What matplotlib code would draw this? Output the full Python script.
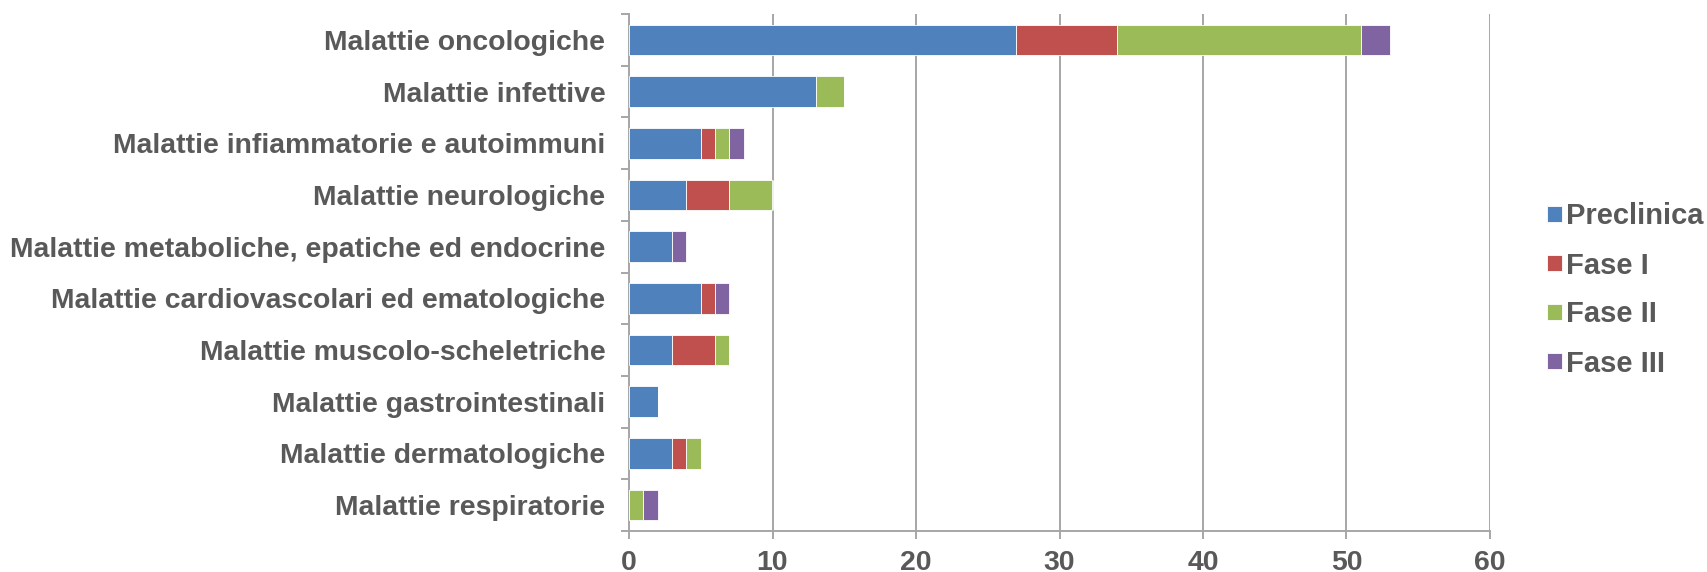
import numpy as np
import matplotlib
matplotlib.use("Agg")
import matplotlib.pyplot as plt
from matplotlib.ticker import FixedLocator

plt.rcParams["font.family"] = ["Liberation Sans", "DejaVu Sans"]
plt.rcParams["font.weight"] = "bold"

# ---------------------------------------------------------------- data
categories = ["Malattie oncologiche", "Malattie infettive",
              "Malattie infiammatorie e autoimmuni", "Malattie neurologiche",
              "Malattie metaboliche, epatiche ed endocrine",
              "Malattie cardiovascolari ed ematologiche",
              "Malattie muscolo-scheletriche", "Malattie gastrointestinali",
              "Malattie dermatologiche", "Malattie respiratorie"]
preclinica = [27, 13, 5, 4, 3, 5, 3, 2, 3, 0]
fase_1 = [7, 0, 1, 3, 0, 1, 3, 0, 1, 0]
fase_2 = [17, 2, 1, 3, 0, 0, 1, 0, 1, 1]
fase_3 = [2, 0, 1, 0, 1, 1, 0, 0, 0, 1]
series_names = ["Preclinica", "Fase I", "Fase II", "Fase III"]
colors = ["#4F81BD", "#C0504D", "#9BBB59", "#8064A2"]

TXT = "#595959"
GRID = "#A6A6A6"

fig = plt.figure(figsize=(17.08, 5.72), dpi=100)
ax = fig.add_axes([629 / 1708, 1 - 531 / 572, (1490 - 629) / 1708, (531 - 14) / 572])

y = np.arange(len(categories))[::-1]
left = np.zeros(len(categories))
for name, vals, c in zip(series_names, [preclinica, fase_1, fase_2, fase_3], colors):
    vals = np.array(vals, dtype=float)
    ax.barh(y, vals, left=left, height=0.59, color=c, label=name,
            edgecolor="white", linewidth=0.6, zorder=3)
    left += vals

ax.set_xlim(0, 60)
ax.set_ylim(-0.5, len(categories) - 0.5)
ax.set_xticks(np.arange(0, 61, 10))
ax.set_yticks(y)
ax.set_yticklabels(categories)
ax.yaxis.set_minor_locator(FixedLocator(np.arange(-0.5, len(categories), 1)))

ax.grid(True, axis="x", color=GRID, linewidth=1.4, zorder=0)
for s in ["top", "right"]:
    ax.spines[s].set_visible(False)
for s in ["left", "bottom"]:
    ax.spines[s].set_color(GRID)
    ax.spines[s].set_linewidth(1.4)

ax.tick_params(axis="y", which="major", length=0, pad=17, labelsize=20.4, labelcolor=TXT)
ax.tick_params(axis="y", which="minor", length=6, width=1.4, color=GRID)
ax.tick_params(axis="x", which="major", length=6, width=1.4, color=GRID,
               pad=8, labelsize=20.4, labelcolor=TXT)

fig.legend(loc="center left", bbox_to_anchor=(1547 / 1708, 1 - 290 / 572),
           frameon=False, fontsize=21, labelcolor=TXT,
           handlelength=0.5, handleheight=0.5, handletextpad=0.15,
           labelspacing=0.72, borderaxespad=0, borderpad=0)

fig.savefig("out.png", dpi=100)
